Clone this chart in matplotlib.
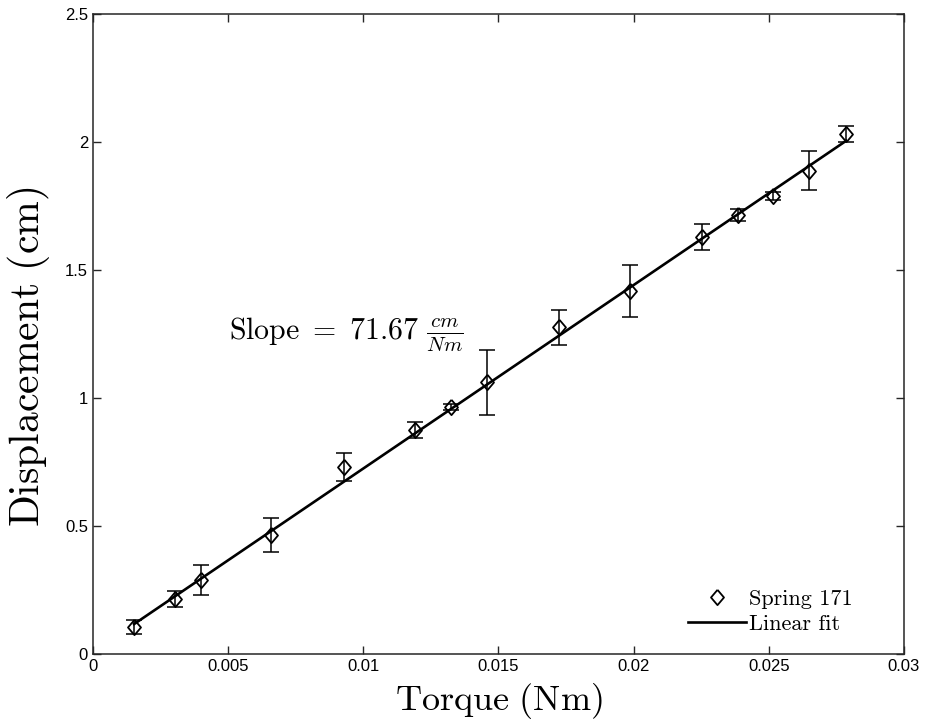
import matplotlib
matplotlib.use("Agg")
import matplotlib.pyplot as plt
import numpy as np

plt.rcParams["mathtext.fontset"] = "cm"
plt.rcParams["font.family"] = ["Liberation Sans", "DejaVu Sans"]

# spring 171 calibration: applied torque vs measured displacement
torque = [0.00152, 0.00303, 0.00400, 0.00658, 0.00928, 0.01190, 0.01324, 0.01457,
          0.01724, 0.01986, 0.02253, 0.02386, 0.02515, 0.02649, 0.02786]
disp = [0.105, 0.215, 0.289, 0.465, 0.730, 0.875, 0.965, 1.062,
        1.277, 1.418, 1.629, 1.715, 1.789, 1.887, 2.031]
disp_err = [0.027, 0.030, 0.060, 0.066, 0.054, 0.033, 0.010, 0.127,
            0.068, 0.102, 0.049, 0.025, 0.015, 0.076, 0.031]

slope = 71.67        # cm / Nm
intercept = 0.008    # cm

# open diamond, a bit taller than wide
diamond = [(0, 1), (0.85, 0), (0, -1), (-0.85, 0), (0, 1)]

fig = plt.figure(figsize=(9.26, 7.23), dpi=100)
ax = fig.add_axes([0.1004, 0.0954, 0.8758, 0.8852])

ax.errorbar(torque, disp, yerr=disp_err, fmt="none", ecolor="black",
            elinewidth=1.1, capsize=6, capthick=1.1, zorder=2)
ax.plot(torque, disp, ls="none", marker=diamond, ms=11, mfc="none", mec="black",
        mew=1.3, label="Spring 171", zorder=3)

xf = np.array([torque[0], torque[-1]])
ax.plot(xf, slope * xf + intercept, color="black", lw=1.9, label="Linear fit", zorder=4)

ax.text(0.00503, 1.227, r"$\mathrm{Slope}\ =\ 71.67\ \frac{cm}{Nm}$", fontsize=21.5,
        ha="left", va="baseline")

ax.set_xlim(0, 0.03)
ax.set_ylim(0, 2.5)
ax.set_xticks([0, 0.005, 0.01, 0.015, 0.02, 0.025, 0.03])
ax.set_xticklabels(["0", "0.005", "0.01", "0.015", "0.02", "0.025", "0.03"])
ax.set_yticks([0, 0.5, 1, 1.5, 2, 2.5])
ax.set_yticklabels(["0", "0.5", "1", "1.5", "2", "2.5"])
ax.tick_params(direction="in", length=6, width=1, labelsize=12, colors="#262626",
               labelcolor="black", top=True, right=True)
for s in ax.spines.values():
    s.set_color("#262626")
    s.set_linewidth(1.1)

ax.set_xlabel(r"$\mathrm{Torque\ (Nm)}$", fontsize=26)
ax.xaxis.set_label_coords(0.5006, -0.042)
ax.xaxis.label.set_va("top")
ax.set_ylabel(r"$\mathrm{Displacement\ (cm)}$", fontsize=30)
ax.yaxis.set_label_coords(-0.05, 0.464)

leg = ax.legend(loc="lower right", bbox_to_anchor=(0.937, 0.031), frameon=False,
                handlelength=2.6, handletextpad=0.15, borderaxespad=0, borderpad=0,
                labelspacing=0.27, prop={"family": "cmr10", "size": 16})

fig.savefig("out.png", dpi=100)
